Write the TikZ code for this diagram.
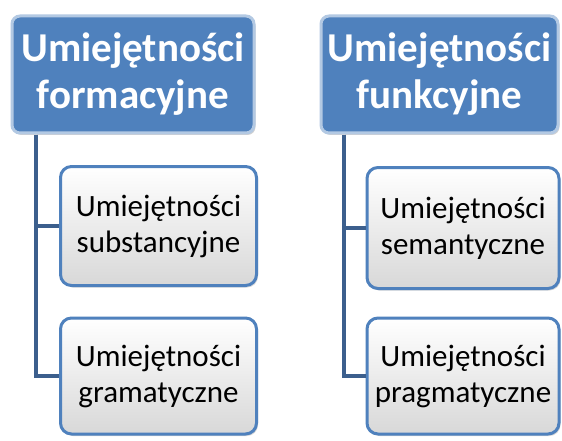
\documentclass[tikz,border=0pt]{standalone}
\usepackage{fontspec}
\setmainfont{Carlito}
\usetikzlibrary{shadows}
\definecolor{accent}{HTML}{4F81BD}
\definecolor{accentlight}{HTML}{B3C9E3}
\definecolor{linkblue}{HTML}{3C5F8D}
\definecolor{paperlow}{HTML}{D8D8D8}
\tikzset{
  x=1pt, y=1pt,
  headbox/.style={draw=accentlight, line width=3pt, fill=accent,
    rounded corners=8pt, inner sep=0pt, align=center,
    text=white, font=\fontsize{41}{47}\selectfont\bfseries,
    drop shadow={shadow xshift=1.5pt, shadow yshift=-2pt, opacity=0.35}},
  itembox/.style={draw=accent, line width=3pt, top color=white,
    bottom color=paperlow, rounded corners=11pt, inner sep=0pt,
    align=center, text=black, font=\fontsize{31}{36}\selectfont,
    drop shadow={shadow xshift=1.5pt, shadow yshift=-2pt, opacity=0.3}},
  link/.style={draw=linkblue, line width=4pt}
}
\begin{document}
\begin{tikzpicture}
\useasboundingbox (0,0) rectangle (562,440);
\fill[white] (0,0) rectangle (562,440);

% left branch
\node[headbox, minimum width=242pt, minimum height=117pt] (hl) at (133,365.5)
  {Umiejętności\\formacyjne};
\node[itembox, minimum width=196pt, minimum height=119pt] (a1) at (158.5,214)
  {Umiejętności\\substancyjne};
\node[itembox, minimum width=196pt, minimum height=116pt] (a2) at (158.5,64)
  {Umiejętności\\gramatyczne};

% right branch
\node[headbox, minimum width=237pt, minimum height=117pt] (hr) at (439.5,365.5)
  {Umiejętności\\funkcyjne};
\node[itembox, minimum width=192pt, minimum height=121pt] (b1) at (463,212)
  {Umiejętności\\semantyczne};
\node[itembox, minimum width=192pt, minimum height=116pt] (b2) at (463,64)
  {Umiejętności\\pragmatyczne};

% connectors
\draw[link] (hl.south -| 36,0) |- (a1.west);
\draw[link] (hl.south -| 36,0) |- (a2.west);
\draw[link] (hr.south -| 344,0) |- (b1.west);
\draw[link] (hr.south -| 344,0) |- (b2.west);
\end{tikzpicture}
\end{document}
